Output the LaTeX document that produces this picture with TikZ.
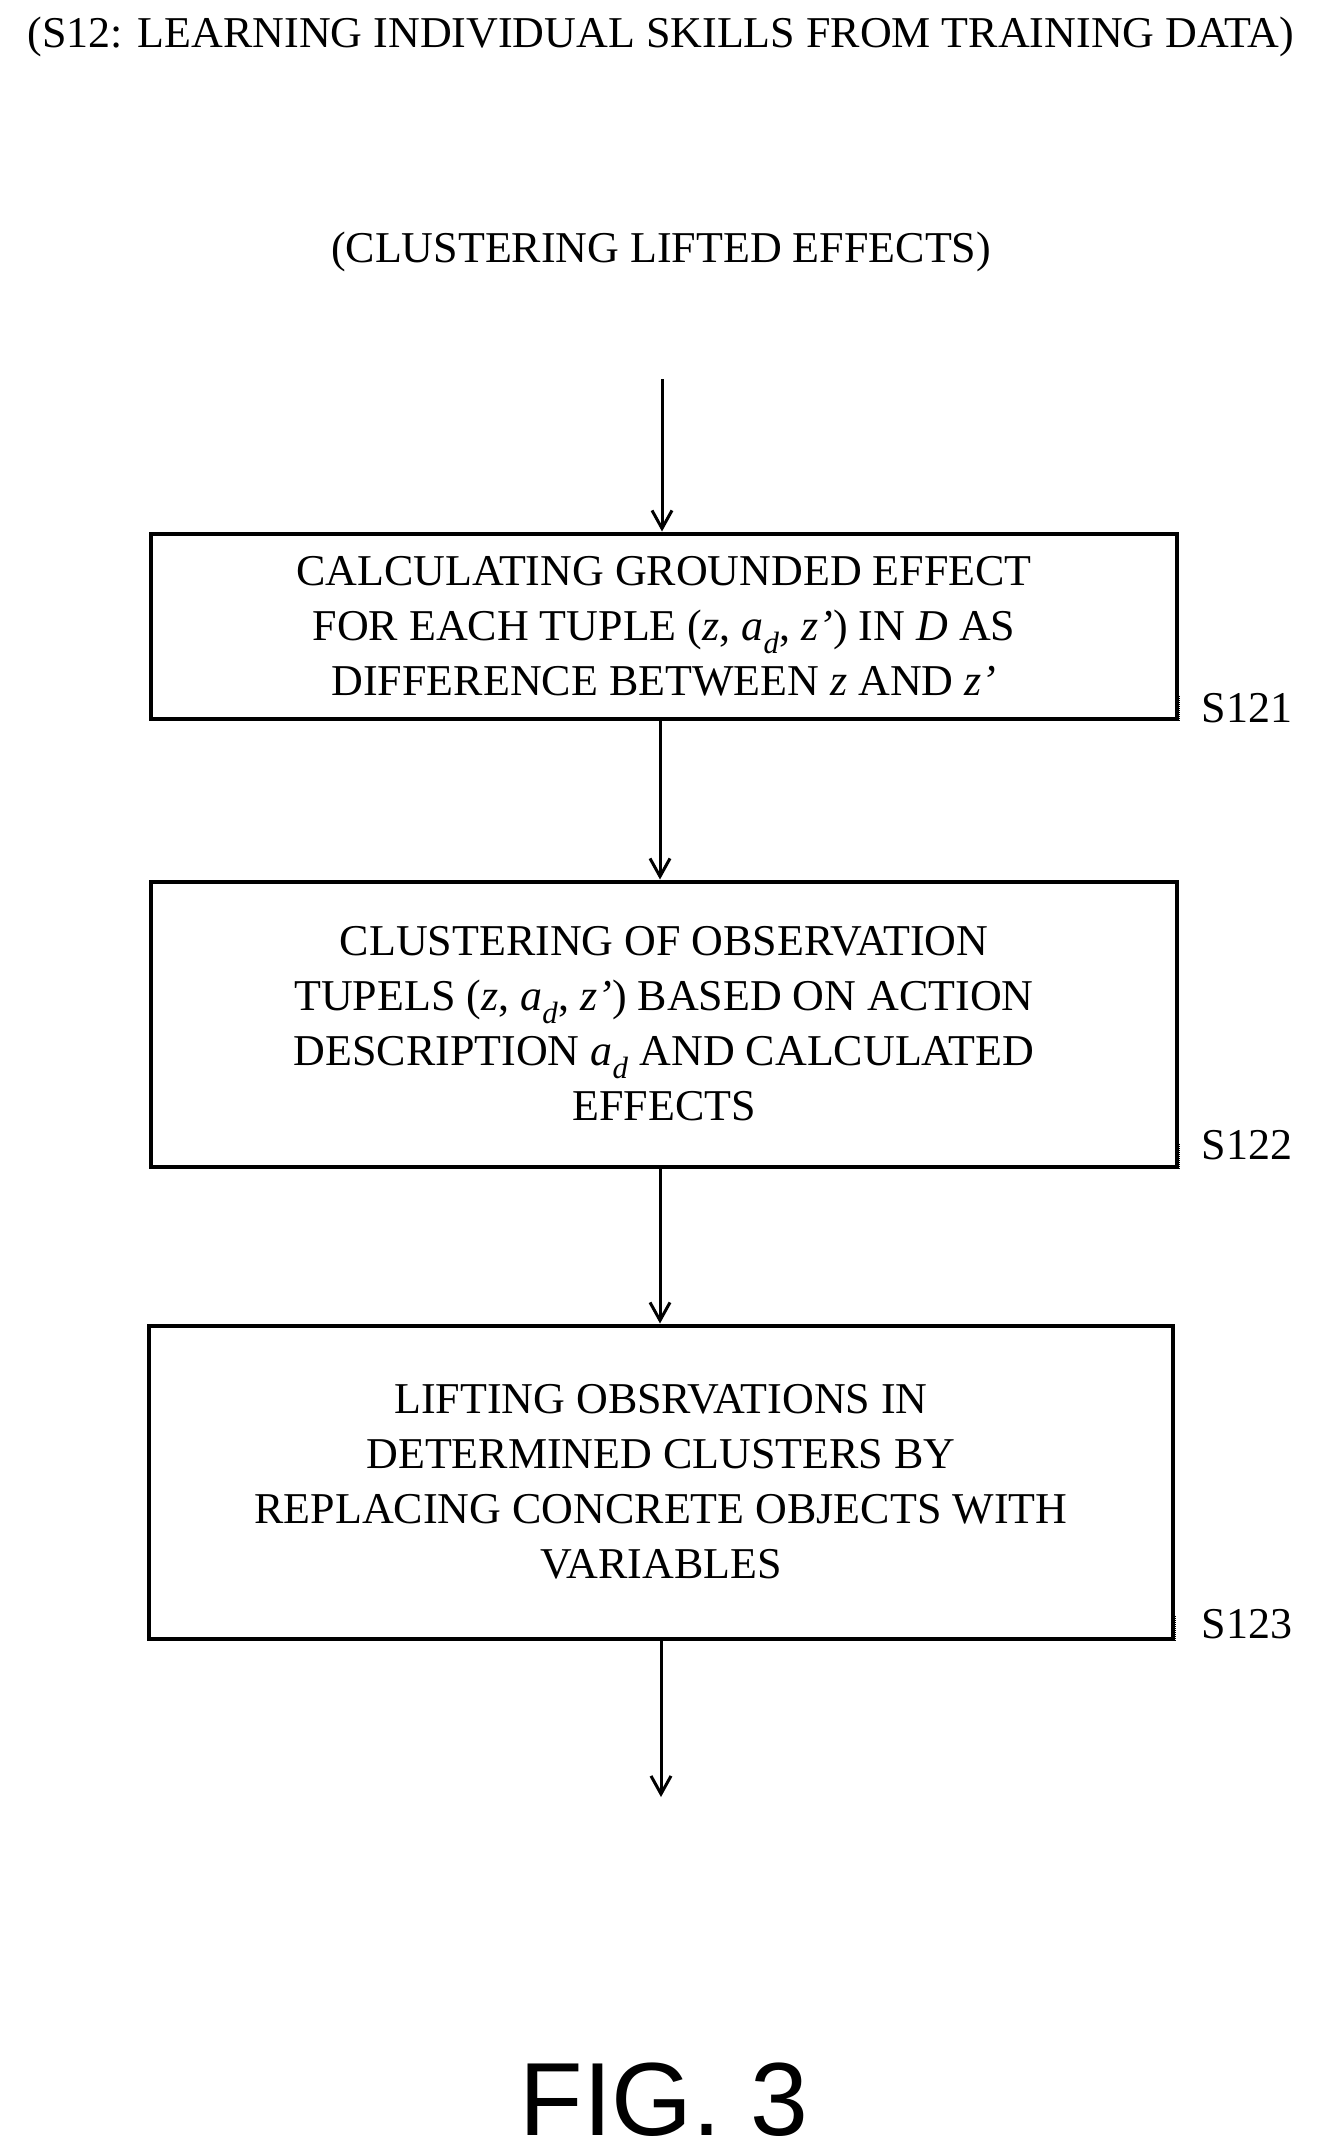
\documentclass[tikz,border=0pt]{standalone}
\usepackage{fontspec}
\setmainfont{Liberation Serif}
\newfontfamily\figfont{Liberation Sans}
\usetikzlibrary{arrows.meta}
\begin{document}
\begin{tikzpicture}[x=1pt,y=-1pt,
  box/.style={draw,line width=4pt,minimum width=1026pt,align=center,inner sep=0pt,font=\fontsize{44}{55}\selectfont},
  lbl/.style={font=\fontsize{44}{48}\selectfont,anchor=base west},
  arr/.style={line width=3pt,-{Straight Barb[length=18pt,width=20pt,line width=3pt]}},
  txt/.style={font=\fontsize{44}{48}\selectfont}]
\useasboundingbox (0,0) rectangle (1322,2154);
\node[txt] (title) at (661,37) {(S12: LEARNING INDIVIDUAL SKILLS FROM TRAINING DATA)};
\node[txt] (sub) at (661,252) {(CLUSTERING LIFTED EFFECTS)};
\coordinate (top) at (662,379);
\node[box,minimum height=185pt] (b1) at (664,626) {CALCULATING GROUNDED EFFECT\\FOR EACH TUPLE (\textit{z}, \textit{a}\textsubscript{\textit{d}}, \textit{z’}) IN \textit{D} AS\\DIFFERENCE BETWEEN \textit{z} AND \textit{z’}};
\node[box,minimum height=285pt] (b2) at (664,1024) {CLUSTERING OF OBSERVATION\\TUPELS (\textit{z}, \textit{a}\textsubscript{\textit{d}}, \textit{z’}) BASED ON ACTION\\DESCRIPTION \textit{a}\textsubscript{\textit{d}} AND CALCULATED\\EFFECTS};
\node[box,minimum width=1024pt,minimum height=313pt] (b3) at (661,1482) {LIFTING OBSRVATIONS IN\\DETERMINED CLUSTERS BY\\REPLACING CONCRETE OBJECTS WITH\\VARIABLES};
\coordinate (bot) at (661,1797);
\node[lbl] (s1) at (1198,722) {S121};
\node[lbl] (s2) at (1198,1159) {S122};
\node[lbl] (s3) at (1198,1638) {S123};
\draw[line width=1pt,densely dotted] (b1.south east) -- ++(0,25pt);
\draw[line width=1pt,densely dotted] (b2.south east) -- ++(0,25pt);
\draw[line width=1pt,densely dotted] (b3.south east) -- ++(0,25pt);
\draw[arr] (top) -- (b1.north -| top);
\draw[arr] (b1.south -| 660,0) -- (b2.north -| 660,0);
\draw[arr] (b2.south -| 660,0) -- (b3.north -| 660,0);
\draw[arr] (b3.south -| bot) -- (bot);
\node[font=\figfont\fontsize{104}{110}\selectfont] (fig) at (664,2100) {FIG. 3};
\end{tikzpicture}
\end{document}
